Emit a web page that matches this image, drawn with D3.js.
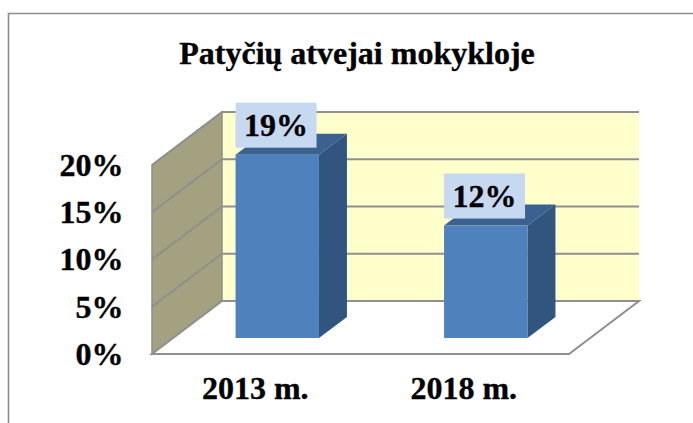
<!DOCTYPE html>
<html>
<head>
<meta charset="utf-8">
<script src="https://cdn.jsdelivr.net/npm/d3@7"></script>
<style>
html,body{margin:0;padding:0;background:#fff;overflow:hidden}
svg{display:block}
text{font-family:"Liberation Serif","Times New Roman",serif;font-weight:bold;fill:#000;stroke:#000;stroke-width:0.35px}
</style>
</head>
<body>
<script>
const categories = ["2013 m.", "2018 m."];
const values = [0.194, 0.119];
const yTicks = [0, 0.05, 0.10, 0.15, 0.20];
const titleText = "Patyčių atvejai mokykloje";

const W = 693, H = 423;
const svg = d3.select("body").append("svg").attr("width", W).attr("height", H);

// oblique 3D projection
const floorL = 152, floorR = 569, floorY = 354, topY = 165;
const wallDx = 70, wallDy = -53;
const barInsetY = -16, barInsetX = 21, barDx = 28, barDy = -21;

const y = d3.scaleLinear().domain([0, 0.2]).range([floorY, topY]);
const xFront = d3.scaleBand().domain(categories).range([floorL, floorR]);
const xBar = d3.scaleBand().domain(categories)
  .range([floorL + barInsetX, floorR + barInsetX]).paddingInner(0.6).paddingOuter(0.3);

const poly = pts => pts.map(p => p.join(",")).join(" ");
const gridColor = "#8f8f8f";

// frame
svg.append("path").attr("d", `M${8.5},${H}V13.5H${W}`)
  .attr("fill", "none").attr("stroke", "#8c8c8c").attr("stroke-width", 1.6);

// title
svg.append("text").attr("x", 357).attr("y", 64).attr("text-anchor", "middle")
  .attr("font-size", 32).text(titleText);

// back wall, side wall, floor
svg.append("polygon").attr("fill", "#ffffcc")
  .attr("points", poly([[floorL + wallDx, y(0) + wallDy], [floorR + wallDx + 0, y(0) + wallDy],
                        [floorR + wallDx, y(0.2) + wallDy], [floorL + wallDx, y(0.2) + wallDy]]));
svg.append("polygon").attr("fill", "#a3a180")
  .attr("stroke", gridColor).attr("stroke-width", 1.5)
  .attr("points", poly([[floorL, y(0)], [floorL + wallDx, y(0) + wallDy],
                        [floorL + wallDx, y(0.2) + wallDy], [floorL, y(0.2)]]));
svg.append("path").attr("fill", "#fff").attr("stroke", gridColor).attr("stroke-width", 2)
  .attr("d", `M${floorL},${y(0)}L${floorL + wallDx},${y(0) + wallDy}H${floorR + wallDx}L${floorR},${y(0)}Z`);

// gridlines
svg.append("g").selectAll("path").data(yTicks.slice(1)).join("path")
  .attr("fill", "none").attr("stroke", gridColor).attr("stroke-width", 2)
  .attr("d", d => `M${floorL},${y(d)}L${floorL + wallDx},${y(d) + wallDy}H${floorR + wallDx}`);

// bars
const bars = svg.append("g").selectAll("g").data(categories).join("g");
const bx = c => xBar(c), bw = xBar.bandwidth();
const val = i => values[i];
const by = v => y(v) + barInsetY;
bars.append("polygon").attr("fill", "#3a618f")
  .attr("points", (c, i) => poly([[bx(c), by(val(i))], [bx(c) + bw, by(val(i))],
     [bx(c) + bw + barDx, by(val(i)) + barDy], [bx(c) + barDx, by(val(i)) + barDy]]));
bars.append("polygon").attr("fill", "#325580")
  .attr("points", (c, i) => poly([[bx(c) + bw, by(0)], [bx(c) + bw + barDx, by(0) + barDy],
     [bx(c) + bw + barDx, by(val(i)) + barDy], [bx(c) + bw, by(val(i))]]));
bars.append("rect").attr("fill", "#4f81bd")
  .attr("x", c => bx(c)).attr("width", bw)
  .attr("y", (c, i) => by(val(i))).attr("height", (c, i) => by(0) - by(val(i)));

// value labels
const fmt = d3.format(".0%");
const labels = svg.append("g").selectAll("g").data(categories).join("g");
labels.append("rect").attr("fill", "#c6d9f1")
  .attr("x", c => bx(c)).attr("width", 81)
  .attr("y", (c, i) => by(val(i)) - 52).attr("height", 45);
labels.append("text").attr("text-anchor", "middle").attr("font-size", 32)
  .attr("x", c => bx(c) + 40.5).attr("y", (c, i) => by(val(i)) - 18.5)
  .text((c, i) => fmt(val(i)));

// axes
const axY = svg.append("g").attr("transform", `translate(${floorL},0)`)
  .call(d3.axisLeft(y).tickValues(yTicks).tickFormat(d3.format(".0%")).tickSize(0).tickPadding(28.5));
axY.select(".domain").remove();
axY.selectAll("text").attr("font-size", 32).attr("dy", "0.32em")
  .style("font-family", '"Liberation Serif",serif').style("font-weight", "bold");

const axX = svg.append("g").attr("transform", `translate(0,${floorY})`)
  .call(d3.axisBottom(xFront).tickSize(0).tickPadding(22));
axX.select(".domain").remove();
axX.selectAll("text").attr("font-size", 32).attr("dx", -1)
  .style("font-family", '"Liberation Serif",serif').style("font-weight", "bold");
</script>
</body>
</html>
